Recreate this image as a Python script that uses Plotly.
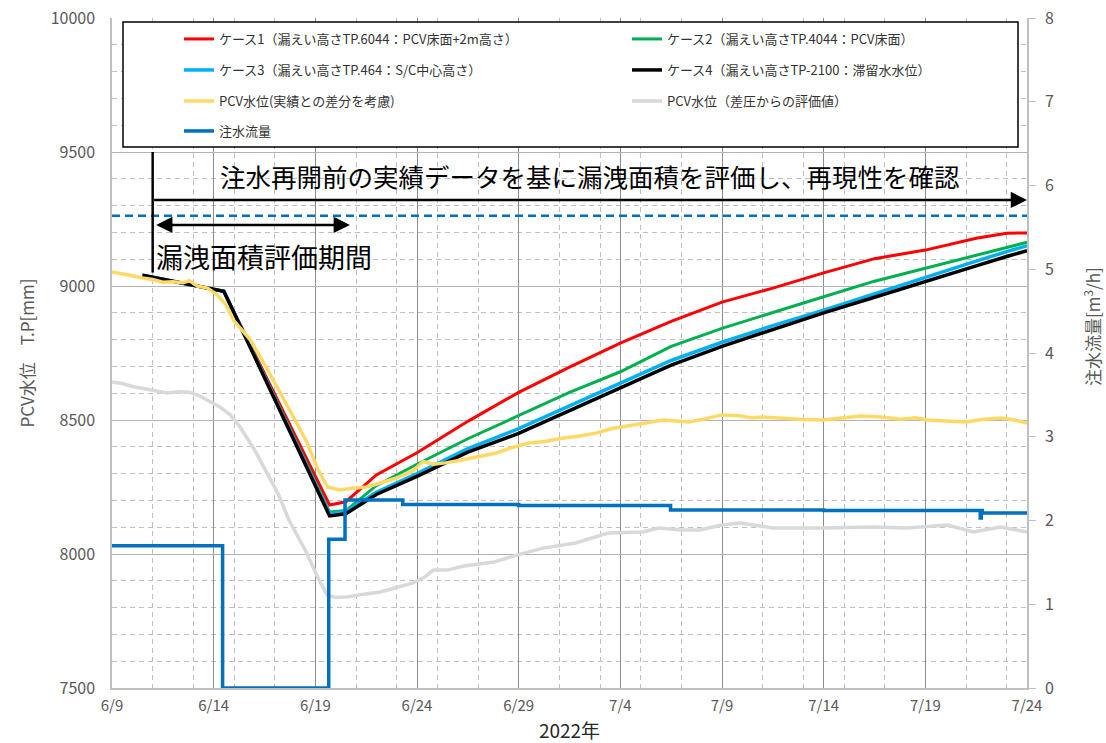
import pandas as pd
import plotly.graph_objects as go

BASE = pd.Timestamp("2022-06-09")

# ---- data (day offsets from 2022-06-09) ----
model_days = [1.5, 5.5, 10.7, 11.5, 13, 15, 17.5, 20, 22.5, 25, 27.5, 30, 32.5, 35, 37.5, 40, 42.5, 44, 45]
case1 = [9040, 8980, 8183, 8195, 8295, 8378, 8495, 8603, 8697, 8787, 8868, 8940, 8992, 9049, 9102, 9134, 9178, 9197, 9198]
case2 = [9040, 8980, 8157, 8162, 8255, 8335, 8430, 8518, 8603, 8680, 8775, 8842, 8902, 8960, 9018, 9066, 9115, 9145, 9163]
case3 = [9040, 8980, 8150, 8158, 8230, 8300, 8393, 8468, 8553, 8638, 8722, 8790, 8852, 8910, 8972, 9033, 9093, 9128, 9150]
case4 = [9040, 8980, 8142, 8150, 8222, 8290, 8380, 8450, 8535, 8619, 8705, 8775, 8838, 8900, 8958, 9015, 9075, 9110, 9132]

meas_days = [0, 0.5, 1, 1.5, 2, 2.5, 3, 3.5, 3.8, 4.2, 4.7, 5.2, 5.6, 6, 6.8, 7.6, 8.4, 9, 9.6, 10.1,
             10.6, 11.2, 11.8, 12.5, 13.2, 14, 14.8, 15.3, 15.8, 16.4, 17.2, 18, 18.9, 19.7, 20.5, 21.3,
             22.2, 23, 23.8, 24.6, 25.5, 26.3, 27.1, 27.8, 28.4, 29.2, 30, 30.8, 31.5, 32, 33, 34, 35,
             36, 36.8, 37.8, 38.8, 39.5, 40.1, 41, 42, 42.8, 43.7, 44.4, 45]
pcv_actual = [9052, 9046, 9038, 9030, 9024, 9014, 9016, 9012, 9020, 9000, 8992, 8965, 8930, 8870, 8799, 8695,
              8586, 8500, 8414, 8320, 8250, 8239, 8245, 8250, 8265, 8284, 8310, 8345, 8335, 8340, 8351, 8362,
              8377, 8398, 8414, 8420, 8433, 8440, 8451, 8468, 8481, 8490, 8500, 8496, 8493, 8505, 8519, 8516,
              8508, 8511, 8505, 8502, 8500, 8508, 8515, 8511, 8503, 8508, 8500, 8496, 8493, 8502, 8507, 8500, 8489]

dp_days = [0, 0.5, 1, 1.5, 2, 2.7, 3.3, 3.8, 4.3, 4.8, 5.3, 5.8, 6.3, 7, 7.6, 8.2, 8.7, 9.5, 10.2, 10.6,
           11, 11.6, 12.2, 13.2, 14, 14.8, 15.4, 15.8, 16.5, 17.3, 18.8, 19.9, 21.2, 22.8, 24.4, 26.1,
           26.9, 28.0, 28.9, 30.0, 30.9, 32.5, 35.0, 37.4, 39.1, 41.1, 42.35, 43.7, 45]
pcv_dp = [8642, 8636, 8625, 8618, 8608, 8601, 8605, 8604, 8590, 8570, 8549, 8520, 8474, 8390, 8302, 8220,
          8127, 8015, 7900, 7845, 7838, 7840, 7848, 7858, 7875, 7892, 7915, 7940, 7940, 7955, 7970, 7996,
          8022, 8041, 8078, 8082, 8097, 8090, 8090, 8108, 8116, 8097, 8097, 8101, 8097, 8108, 8082, 8101, 8082]

flow_days = [0, 5.44, 10.66, 11.46, 14.3, 20, 27.47, 35, 42.7, 42.75, 42.8, 45]
flow = [1.70, 0.0, 1.775, 2.245, 2.19, 2.18, 2.125, 2.12, 2.03, 2.12, 2.09, 2.08]

ref_level = 9262  # 青破線

x_tick_days = [0, 5, 10, 15, 20, 25, 30, 35, 40, 45]


def to_dates(days):
    return [BASE + pd.Timedelta(days=d) for d in days]


fig = go.Figure()

names = [
    "ケース1（漏えい高さTP.6044：PCV床面+2m高さ）",
    "ケース2（漏えい高さTP.4044：PCV床面）",
    "ケース3（漏えい高さTP.464：S/C中心高さ）",
    "ケース4（漏えい高さTP-2100：滞留水水位）",
    "PCV水位(実績との差分を考慮)",
    "PCV水位（差圧からの評価値）",
    "注水流量",
]
colors = ["#FF0000", "#00B050", "#00B0F0", "#000000", "#FFD966", "#D9D9D9", "#0070C0"]

# draw order: gray, models, yellow, flow
fig.add_trace(go.Scatter(x=to_dates(dp_days), y=pcv_dp, mode="lines", name=names[5],
                         line=dict(color=colors[5], width=3.5), legend="legend6"))
for i, (vals, lw) in enumerate(zip([case1, case2, case3, case4], [3, 3, 3.5, 3.5])):
    fig.add_trace(go.Scatter(x=to_dates(model_days), y=vals, mode="lines", name=names[i],
                             line=dict(color=colors[i], width=lw),
                             legend="legend" if i == 0 else f"legend{i+1}"))
fig.add_trace(go.Scatter(x=to_dates(meas_days), y=pcv_actual, mode="lines", name=names[4],
                         line=dict(color=colors[4], width=3.5), legend="legend5"))
fig.add_trace(go.Scatter(x=to_dates(flow_days), y=flow, mode="lines", name=names[6], yaxis="y2",
                         line=dict(color=colors[6], width=3.5, shape="hv"), legend="legend7"))

# layout geometry (px)
L, R, T, B = 112, 1027, 18, 688
W, H = R - L, B - T


def px_x(p):
    return (p - L) / W


def px_y(p):
    return (B - p) / H


FONT = "Noto Sans CJK JP"
legend_pos = [(179, 39), (627, 39), (179, 70), (627, 70), (179, 101), (627, 101), (179, 131)]
legends = {}
for i, (lx, ly) in enumerate(legend_pos):
    key = "legend" if i == 0 else f"legend{i+1}"
    legends[key] = dict(x=px_x(lx), y=px_y(ly), xanchor="left", yanchor="middle",
                        bgcolor="rgba(0,0,0,0)", borderwidth=0,
                        font=dict(family=FONT, size=13, color="#333333"))

fig.update_layout(
    width=1106, height=743,
    margin=dict(l=L, r=1106 - R, t=T, b=743 - B, autoexpand=False),
    paper_bgcolor="white", plot_bgcolor="white",
    font=dict(family=FONT, color="#595959"),
    showlegend=True,
    **legends,
    xaxis=dict(
        range=[BASE, BASE + pd.Timedelta(days=45)],
        tickvals=to_dates(x_tick_days),
        tickformat="%-m/%-d",
        tickfont=dict(size=15, color="#595959"), ticklabelstandoff=3,
        showgrid=True, gridcolor="#8c8c8c", gridwidth=1,
        minor=dict(dtick=2 * 86400000, tick0=BASE, showgrid=True, gridcolor="#bfbfbf",
                   griddash="5px,4px", gridwidth=1),
        showline=True, linecolor="#bfbfbf", linewidth=1.5,
        ticks="", zeroline=False, automargin=False,
        title=dict(text="2022年", font=dict(size=19, color="#262626"), standoff=13),
    ),
    yaxis=dict(
        range=[7500, 10000], dtick=500, tickformat="d",
        tickfont=dict(size=16, color="#595959"), ticklabelstandoff=12,
        showgrid=True, gridcolor="#b3b3b3", gridwidth=1,
        minor=dict(dtick=100, showgrid=True, gridcolor="#bfbfbf", griddash="5px,4px", gridwidth=1),
        showline=True, linecolor="#bfbfbf", linewidth=1.5, ticks="", zeroline=False, automargin=False,
        title=dict(text="PCV水位　T.P[mm]", font=dict(size=17, color="#595959"), standoff=12),
    ),
    yaxis2=dict(
        range=[0, 8], dtick=1, overlaying="y", side="right",
        tickfont=dict(size=16, color="#595959"), ticklabelstandoff=6,
        showgrid=False, zeroline=False, automargin=False,
        showline=True, linecolor="#bfbfbf", linewidth=1.5,
        ticks="outside", ticklen=7, tickcolor="#bfbfbf",
    ),
)

# legend frame
fig.add_shape(type="rect", xref="paper", yref="paper", x0=px_x(123), x1=px_x(1018),
              y0=px_y(147), y1=px_y(22), line=dict(color="black", width=1.5),
              fillcolor="white", layer="above")
# reference dashed level
fig.add_shape(type="line", xref="paper", yref="y", x0=0, x1=1, y0=ref_level, y1=ref_level,
              line=dict(color="#0070C0", width=2.5, dash="8px,5px"), layer="above")
# vertical marker at start of evaluation
start_eval = BASE + pd.Timedelta(days=2.0)
fig.add_shape(type="line", xref="x", yref="y", x0=start_eval, x1=start_eval, y0=9500, y1=9050,
              line=dict(color="black", width=2.5), layer="above")

# arrows
fig.add_annotation(x=BASE + pd.Timedelta(days=45), y=9321, ax=start_eval, ay=9321,
                   xref="x", yref="y", axref="x", ayref="y", text="", showarrow=True,
                   arrowhead=2, arrowsize=1.3, arrowwidth=2.5, arrowcolor="black", standoff=0)
fig.add_annotation(x=BASE + pd.Timedelta(days=11.7), y=9228, ax=BASE + pd.Timedelta(days=2.1), ay=9228,
                   xref="x", yref="y", axref="x", ayref="y", text="", showarrow=True,
                   arrowhead=2, startarrowhead=2, arrowside="end+start", arrowsize=1.3,
                   startarrowsize=1.3, arrowwidth=2.5, arrowcolor="black", standoff=0, startstandoff=0)

fig.add_annotation(x=px_x(590), y=px_y(175), xref="paper", yref="paper", showarrow=False,
                   text="注水再開前の実績データを基に漏洩面積を評価し、再現性を確認",
                   font=dict(family=FONT, size=25.5, color="black"), xanchor="center", yanchor="middle")
fig.add_annotation(x=px_x(154), y=px_y(256), xref="paper", yref="paper", showarrow=False,
                   text="漏洩面積評価期間",
                   font=dict(family=FONT, size=27, color="black"), xanchor="left", yanchor="middle")
# right axis title
fig.add_annotation(x=px_x(1092), y=px_y(327), xref="paper", yref="paper", showarrow=False,
                   text="注水流量[m<sup>3</sup>/h]", textangle=-90,
                   font=dict(family=FONT, size=17, color="#595959"), xanchor="center", yanchor="middle")

fig.write_html("out.html", post_script="document.body.style.margin='0px';",
               config={"displayModeBar": False})
